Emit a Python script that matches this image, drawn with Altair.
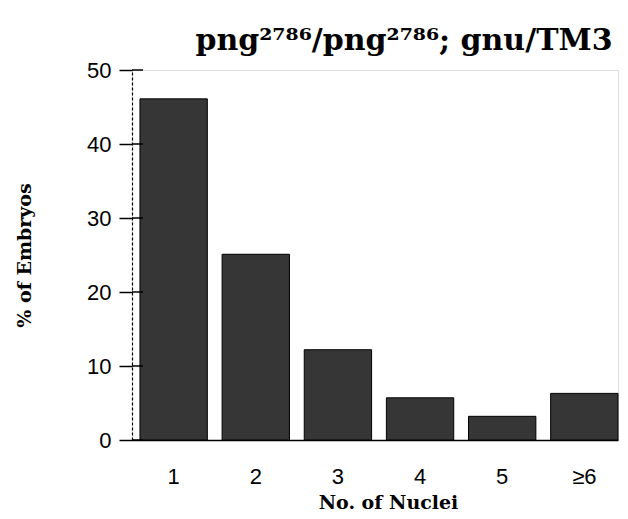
import altair as alt
import pandas as pd

categories = ["1", "2", "3", "4", "5", "≥6"]
percent_embryos = [46.1, 25.1, 12.2, 5.7, 3.2, 6.3]
y_ticks = [0, 10, 20, 30, 40, 50]

df = pd.DataFrame({"nuclei": categories, "pct": percent_embryos})
ticks_df = pd.DataFrame({"t": y_ticks})

SANS = "Liberation Sans"
SERIF = "DejaVu Serif"

x_enc = alt.X(
    "nuclei:N",
    sort=categories,
    scale=alt.Scale(paddingInner=0.18, paddingOuter=0.0485, align=1),
    axis=alt.Axis(
        title="No. of Nuclei",
        titleFont=SERIF,
        titleFontSize=19,
        titleFontWeight="bold",
        titleColor="black",
        titlePadding=6,
        titleX=256,
        titleAlign="center",
        labelFont=SANS,
        labelFontSize=22,
        labelColor="black",
        labelAngle=0,
        labelPadding=26,
        ticks=False,
        domainColor="black",
        domainWidth=1.5,
    ),
)
y_scale = alt.Scale(domain=[0, 50], nice=False)

bars = alt.Chart(df).mark_bar(
    color="#363636", stroke="black", strokeWidth=1
).encode(
    x=x_enc,
    y=alt.Y(
        "pct:Q",
        scale=y_scale,
        axis=alt.Axis(
            title="% of Embryos",
            titleFont=SERIF,
            titleFontSize=19,
            titleFontWeight="bold",
            titleColor="black",
            titlePadding=52,
            values=y_ticks,
            labelFont=SANS,
            labelFontSize=22,
            labelColor="black",
            labelPadding=8,
            tickSize=13,
            tickColor="black",
            tickWidth=1.5,
            domainColor="black",
            domainDash=[3, 2],
            domainWidth=1.2,
            grid=False,
        ),
    ),
)

inner_ticks = alt.Chart(ticks_df).mark_rule(color="black", strokeWidth=1.5).encode(
    y=alt.Y("t:Q", scale=y_scale),
    x=alt.value(0),
    x2=alt.value(11),
)

chart = alt.layer(bars, inner_ticks).properties(
    width=486,
    height=370,
    autosize=alt.AutoSizeParams(type="none"),
    padding={"left": 124, "top": 62, "right": 2, "bottom": 71},
    title=alt.TitleParams(
        text="png²⁷⁸⁶/png²⁷⁸⁶; gnu/TM3",
        font=SERIF,
        fontSize=30,
        fontWeight="bold",
        color="black",
        anchor="middle",
        dx=29,
        offset=3,
    ),
).configure_view(stroke=None).configure(background="white")

chart.save("out.html", embed_options={"renderer": "svg", "actions": False})
